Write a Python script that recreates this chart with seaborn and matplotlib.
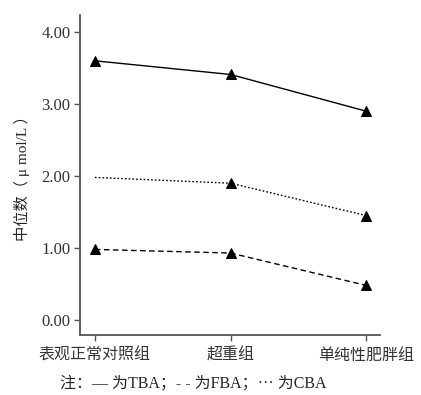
import pandas as pd
import matplotlib
matplotlib.use("Agg")
import matplotlib.pyplot as plt
import seaborn as sns

# data
groups = ['表观正常对照组', '超重组', '单纯性肥胖组']
tba = [3.60, 3.41, 2.90]
fba = [0.98, 0.93, 0.48]
cba = [1.98, 1.90, 1.45]
yticks = [0.0, 1.0, 2.0, 3.0, 4.0]

sns.set_style('white')
plt.rcParams['font.family'] = ['Liberation Serif', 'Noto Sans CJK SC']
plt.rcParams['font.size'] = 11

df = pd.DataFrame({'组别': groups * 3,
                   'x': [0, 1, 2] * 3,
                   '值': tba + fba + cba,
                   '指标': ['TBA'] * 3 + ['FBA'] * 3 + ['CBA'] * 3})

fig = plt.figure(figsize=(4.21, 3.95), dpi=100)
ax = fig.add_axes([0.190, 0.152, 0.713, 0.810])

styles = {'TBA': ('-', [0, 1, 2]), 'FBA': ((0, (4, 2.5)), [0, 1, 2]), 'CBA': ((0, (1.2, 1.5)), [1, 2])}
for name, (ls, mk) in styles.items():
    sub = df[df['指标'] == name]
    sns.lineplot(data=sub, x='x', y='值', ax=ax, color='black', linewidth=1.0,
                 linestyle=ls, marker='^', markersize=7, markevery=mk,
                 markeredgecolor='black', markerfacecolor='black')

ax.set_xlim(-0.11, 2.103)
ax.set_ylim(-0.208, 4.236)
ax.set_xticks([0, 1, 2])
ax.set_xticklabels(groups, fontsize=11.5)
ax.set_yticks(yticks)
ax.set_yticklabels([f'{v:.2f}' for v in yticks], fontsize=12)
ax.set_xlabel('')
ax.set_ylabel('中位数（ μ mol/L ）', fontsize=11, labelpad=8)

for s in ['top', 'right']:
    ax.spines[s].set_visible(False)
for s in ['left', 'bottom']:
    ax.spines[s].set_color('#555555')
    ax.spines[s].set_linewidth(1.3)
ax.tick_params(axis='both', direction='out', length=4, width=1.0, color='#555555',
               colors='#333333', left=True, bottom=True, pad=3)
ax.tick_params(axis='x', pad=5)

fig.text(0.46, 0.028, '注：— 为TBA；- - 为FBA；··· 为CBA', ha='center', va='center', fontsize=11.5)

fig.savefig('out.png', dpi=100)
